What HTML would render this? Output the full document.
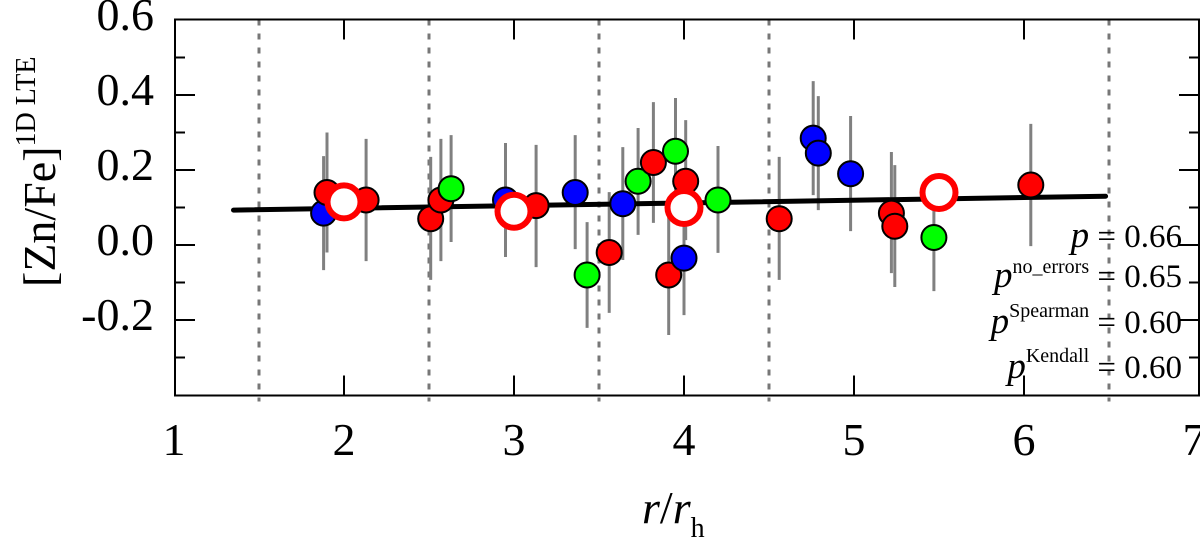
<!DOCTYPE html>
<html><head><meta charset="utf-8"><style>
body{margin:0;background:#fff}
svg, svg text{font-family:"Liberation Serif","DejaVu Serif",serif}
</style></head><body>
<svg id="c" width="1200" height="545" viewBox="0 0 1200 545">
<g id="grid"></g><g id="errs"></g><g id="fit"></g><g id="pts"></g><g id="frame"></g>
<g id="ann" font-size="33" text-anchor="end" font-family="Liberation Serif, serif">
<text x="1182" y="247"><tspan font-style="italic" font-size="37">p</tspan> = 0.66</text>
<text x="1182" y="287"><tspan font-style="italic" font-size="37">p</tspan><tspan font-size="20" dy="-14">no_errors</tspan><tspan dy="14"> = 0.65</tspan></text>
<text x="1182" y="333"><tspan font-style="italic" font-size="37">p</tspan><tspan font-size="20" dy="-16">Spearman</tspan><tspan dy="16"> = 0.60</tspan></text>
<text x="1182" y="378"><tspan font-style="italic" font-size="37">p</tspan><tspan font-size="20" dy="-16">Kendall</tspan><tspan dy="16"> = 0.60</tspan></text>
</g>
<text x="642" y="523" font-size="46" font-family="Liberation Serif, serif"><tspan font-style="italic">r</tspan>/<tspan font-style="italic">r</tspan><tspan font-size="28" dy="14">h</tspan></text>
<text transform="translate(55,287) rotate(-90)" font-size="46" font-family="Liberation Serif, serif">[Zn/Fe]<tspan font-size="28" dy="-20">1D LTE</tspan></text>
</svg>
<script>
const xs=[1.88,1.90,2.13,2.51,2.57,2.63,2.95,3.13,3.36,3.43,3.56,3.64,3.73,3.82,3.95,4.01,3.91,4.0,4.2,4.56,4.76,4.79,4.98,5.22,5.24,5.47,6.04];
const ys=[0.085,0.14,0.12,0.07,0.12,0.15,0.12,0.105,0.14,-0.08,-0.02,0.11,0.17,0.22,0.25,0.17,-0.08,-0.035,0.12,0.07,0.285,0.245,0.19,0.085,0.05,0.02,0.16];
const errHi=[0.237,0.30,0.283,0.235,0.283,0.293,0.272,0.267,0.293,0.061,0.141,0.261,0.312,0.381,0.392,0.333,0.101,0.12,0.264,0.235,0.437,0.397,0.344,0.248,0.213,0.16,0.323];
const errLo=[-0.067,-0.02,-0.043,-0.093,-0.043,0.008,-0.032,-0.059,-0.011,-0.221,-0.181,-0.04,0.027,0.059,0.1,0.013,-0.24,-0.187,-0.021,-0.093,0.133,0.093,0.037,-0.075,-0.112,-0.123,-0.003];
const groups=["b","r","r","r","r","g","b","r","b","g","r","b","g","r","g","r","r","b","g","r","b","b","b","r","r","g","r"];
const binX=[2,3,4,5.5];
const binY=[0.115,0.09,0.10,0.14];
const fitX=[1.35,6.48];
const fitY=[0.093,0.13];
const dividers=[1.5,2.5,3.5,4.5,6.5];
const xTicks=[1,2,3,4,5,6,7];
const yTicks=[-0.2,0,0.2,0.4,0.6];
const yTickLabels=["-0.2","0.0","0.2","0.4","0.6"];
const L=175,R=1199,T=19.5,B=395.5;
const X=v=>174+(v-1)*170;
const Y=v=>245-v*375;
const NS="http://www.w3.org/2000/svg";
function mk(p,t,a){const e=document.createElementNS(NS,t);for(const k in a)e.setAttribute(k,a[k]);document.getElementById(p).appendChild(e);return e;}
dividers.forEach(d=>{const e=mk("grid","line",{x1:X(d),x2:X(d),y1:T,y2:B+6,stroke:"#777","stroke-width":3,"stroke-dasharray":"6 8"});

});
xs.forEach((x,i)=>{const e=mk("errs","line",{x1:X(x),x2:X(x),y1:Y(errHi[i]),y2:Y(errLo[i]),stroke:"#808080","stroke-width":3});

});
const f=mk("fit","line",{x1:X(fitX[0]),y1:Y(fitY[0]),x2:X(fitX[1]),y2:Y(fitY[1]),stroke:"#000","stroke-width":5,"stroke-linecap":"round"});


const col={r:"#ff0000",g:"#00ff00",b:"#0000ff"};
xs.forEach((x,i)=>{const e=mk("pts","circle",{cx:X(x),cy:Y(ys[i]),r:12.5,fill:col[groups[i]],stroke:"#000","stroke-width":2});

});
binX.forEach((x,i)=>{const e=mk("pts","circle",{cx:X(x),cy:Y(binY[i]),r:16.5,fill:"#fff",stroke:"#ff0000","stroke-width":6});

});
const fr=mk("frame","rect",{x:L,y:T,width:R-L,height:B-T,fill:"none",stroke:"#000","stroke-width":2});


xTicks.forEach(v=>{if(v>1&&v<7){mk("frame","line",{x1:X(v),x2:X(v),y1:T,y2:T+20,stroke:"#000","stroke-width":2});mk("frame","line",{x1:X(v),x2:X(v),y1:B,y2:B-20,stroke:"#000","stroke-width":2});}
const t=mk("frame","text",{x:X(v),y:455,"font-size":46,"text-anchor":"middle","font-family":"Liberation Serif, serif"});t.textContent=v;

});
for(let k=-4;k<=6;k++){const v=k/10,maj=(k%2===0),len=maj?20:10;
if(k>-4&&k<6){mk("frame","line",{x1:L,x2:L+len,y1:Y(v),y2:Y(v),stroke:"#000","stroke-width":2});mk("frame","line",{x1:R,x2:R-len,y1:Y(v),y2:Y(v),stroke:"#000","stroke-width":2});}}
yTicks.forEach((v,i)=>{const t=mk("frame","text",{x:154,y:Y(v)+10,"font-size":46,"text-anchor":"end","font-family":"Liberation Serif, serif"});t.textContent=yTickLabels[i];

});
</script>
</body></html>
